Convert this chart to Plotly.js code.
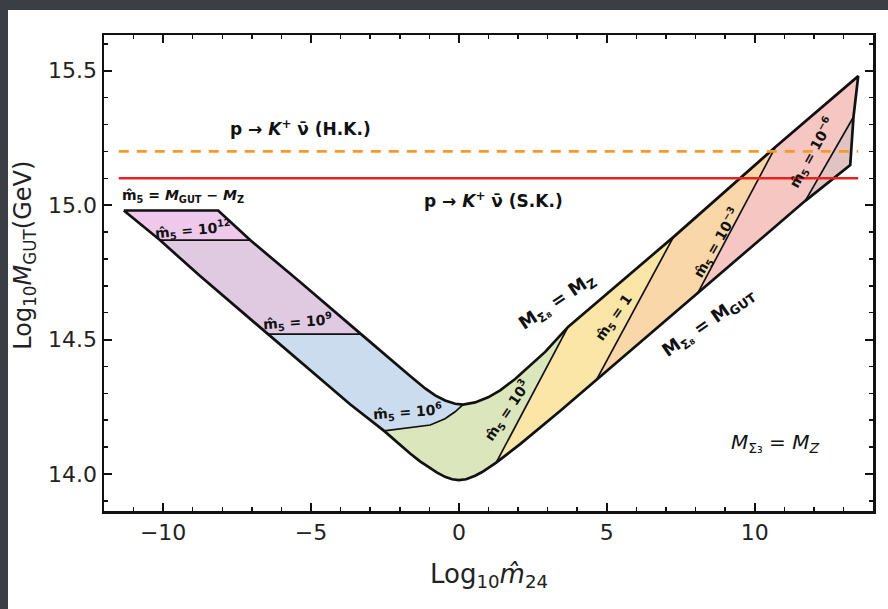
<!DOCTYPE html>
<html>
<head>
<meta charset="utf-8">
<script src="https://cdn.plot.ly/plotly-3.0.1.min.js"></script>
<style>
  html, body { margin: 0; padding: 0; width: 888px; height: 609px; overflow: hidden; background: #3b3f45; }
  #sheet { position: absolute; left: 8px; top: 10px; width: 880px; height: 599px; background: #ffffff; }
  #plot { width: 880px; height: 599px; }
</style>
</head>
<body>
<div id="sheet"><div id="plot"></div></div>
<script>
// Upper edge of the allowed band (Log10 m24, Log10 MGUT): top edge m5 = MGUT - MZ,
// the left branch, the M_Sigma8 = M_Z branch, then the right-hand cut-off down to its lower corner.
const upperX = [-11.33, -8.14, -7.06, -5.37, -3.31, -1.99, -1.65, -1.14, -0.805, -0.467, -0.129, 0.14, 0.548, 0.988, 1.394, 1.901, 2.409, 2.916, 3.69, 7.25, 10.70, 13.50, 13.34, 13.23];
const upperY = [14.98, 14.98, 14.87, 14.714, 14.52, 14.393, 14.364, 14.318, 14.292, 14.273, 14.261, 14.258, 14.266, 14.285, 14.311, 14.353, 14.404, 14.454, 14.547, 14.881, 15.216, 15.48, 15.328, 15.149];

// Lower edge of the band: left branch, then the M_Sigma8 = M_GUT branch.
const lowerX = [-11.33, -10.11, -8.76, -6.49, -5.37, -3.68, -2.53, -1.65, -1.313, -0.97, -0.737, -0.47, -0.23, 0.0, 0.244, 0.55, 0.785, 1.26, 1.732, 2.07, 3.42, 4.64, 6.47, 8.06, 9.85, 11.71, 13.23];
const lowerY = [14.98, 14.87, 14.737, 14.52, 14.418, 14.259, 14.16, 14.076, 14.047, 14.021, 14.005, 13.989, 13.98, 13.977, 13.98, 13.993, 14.007, 14.042, 14.081, 14.111, 14.234, 14.348, 14.52, 14.67, 14.84, 15.016, 15.149];

// Contours of constant m5 (each listed from the lower edge to the upper edge).
const m5e12X = [-10.11, -7.06];            const m5e12Y = [14.87, 14.87];
const m5e9X  = [-6.49, -3.31];             const m5e9Y  = [14.52, 14.52];
const m5e6X  = [-2.53, -1.65, -0.97, -0.47, -0.13, 0.14];
const m5e6Y  = [14.16, 14.171, 14.182, 14.205, 14.231, 14.258];
const m5e3X  = [1.26, 3.69];               const m5e3Y  = [14.042, 14.547];
const m5e0X  = [4.64, 7.25];               const m5e0Y  = [14.348, 14.881];
const m5em3X = [8.06, 10.70];              const m5em3Y = [14.67, 15.216];
const m5em6X = [11.71, 13.34];             const m5em6Y = [15.016, 15.328];

// Proton decay p -> K+ nubar bounds on Log10 MGUT
const limitHK = 15.2;   // Hyper-Kamiokande
const limitSK = 15.1;   // Super-Kamiokande
const limitSpan = [-11.5, 13.5];

// Axis ticks
const xTickVals = [-10, -5, 0, 5, 10];
const yTickVals = [14.0, 14.5, 15.0, 15.5];
const yTickText = ['14.0', '14.5', '15.0', '15.5'];

const regionColors = ['#eec9ec', '#dfcae2', '#cadcee', '#dbe6bc', '#fbe6a8', '#f9d7a9', '#f6c7c2', '#e2c3c3'];

// Region boundaries in order from the left end (corner A) to the right end (corner C)
const nL = lowerX.length;
const contours = [
  { x: [lowerX[0]], y: [lowerY[0]] },
  { x: m5e12X, y: m5e12Y },
  { x: m5e9X,  y: m5e9Y },
  { x: m5e6X,  y: m5e6Y },
  { x: m5e3X,  y: m5e3Y },
  { x: m5e0X,  y: m5e0Y },
  { x: m5em3X, y: m5em3Y },
  { x: m5em6X, y: m5em6Y },
  { x: [lowerX[nL - 1]], y: [lowerY[nL - 1]] }
];

function findPoint(xs, ys, x, y) {
  return xs.findIndex((v, i) => Math.abs(v - x) < 1e-9 && Math.abs(ys[i] - y) < 1e-9);
}

const traces = [];

// Filled bands between consecutive contours
for (let k = 0; k < contours.length - 1; k++) {
  const a = contours[k], b = contours[k + 1];
  const aN = a.x.length - 1, bN = b.x.length - 1;
  const iUa = findPoint(upperX, upperY, a.x[aN], a.y[aN]);
  const iUb = findPoint(upperX, upperY, b.x[bN], b.y[bN]);
  const iLa = findPoint(lowerX, lowerY, a.x[0], a.y[0]);
  const iLb = findPoint(lowerX, lowerY, b.x[0], b.y[0]);
  const px = [].concat(a.x, upperX.slice(iUa + 1, iUb), b.x.slice().reverse(), lowerX.slice(iLa + 1, iLb).reverse());
  const py = [].concat(a.y, upperY.slice(iUa + 1, iUb), b.y.slice().reverse(), lowerY.slice(iLa + 1, iLb).reverse());
  traces.push({
    type: 'scatter', mode: 'lines', x: px, y: py,
    fill: 'toself', fillcolor: regionColors[k],
    line: { width: 0, color: regionColors[k] }, hoverinfo: 'skip', showlegend: false
  });
}

// Interior contour lines
for (let k = 1; k < contours.length - 1; k++) {
  traces.push({
    type: 'scatter', mode: 'lines', x: contours[k].x, y: contours[k].y,
    line: { width: 1.7, color: '#111111' }, hoverinfo: 'skip', showlegend: false
  });
}

// Outline of the whole band
traces.push({
  type: 'scatter', mode: 'lines',
  x: upperX.concat(lowerX.slice(0, nL - 1).reverse()),
  y: upperY.concat(lowerY.slice(0, nL - 1).reverse()),
  line: { width: 2.7, color: '#111111' }, hoverinfo: 'skip', showlegend: false
});

// Experimental bounds
traces.push({
  type: 'scatter', mode: 'lines', x: limitSpan, y: [limitHK, limitHK],
  line: { width: 2.6, color: '#f39a2a', dash: '10px,8px' }, hoverinfo: 'skip', showlegend: false
});
traces.push({
  type: 'scatter', mode: 'lines', x: limitSpan, y: [limitSK, limitSK],
  line: { width: 2.6, color: '#e8221c' }, hoverinfo: 'skip', showlegend: false
});

const FONT = 'DejaVu Sans, Verdana, sans-serif';
const mh = 'm\u0302';
function label(text, x, y, angle, size) {
  return {
    text: text, x: x, y: y, xref: 'x', yref: 'y', showarrow: false,
    textangle: angle, font: { family: FONT, size: size, color: '#111111' },
    xanchor: 'center', yanchor: 'middle'
  };
}

const annotations = [
  label('<b>p → <i>K</i><sup>+</sup> ν\u0304 (H.K.)</b>', -5.37, 15.287, 0, 17),
  label('<b>p → <i>K</i><sup>+</sup> ν\u0304 (S.K.)</b>', 1.16, 15.02, 0, 17),
  label('<b>' + mh + '<sub>5</sub> = <i>M</i><sub>GUT</sub> − <i>M</i><sub>Z</sub></b>', -9.32, 15.034, 0, 14),
  label('<b>' + mh + '<sub>5</sub> = 10<sup>12</sup></b>', -8.99, 14.907, -5, 14),
  label('<b>' + mh + '<sub>5</sub> = 10<sup>9</sup></b>', -5.47, 14.565, -4, 14),
  label('<b>' + mh + '<sub>5</sub> = 10<sup>6</sup></b>', -1.75, 14.231, -4, 14),
  label('<b>' + mh + '<sub>5</sub> = 10<sup>3</sup></b>', 1.63, 14.234, -56, 14),
  label('<b>' + mh + '<sub>5</sub> = 1</b>', 5.25, 14.58, -55, 14),
  label('<b>' + mh + '<sub>5</sub> = 10<sup>−3</sup></b>', 8.71, 14.859, -60, 14),
  label('<b>' + mh + '<sub>5</sub> = 10<sup>−6</sup></b>', 11.95, 15.197, -61, 14),
  label('<b>M<sub>Σ₈</sub> = M<sub>Z</sub></b>', 3.32, 14.639, -34, 18),
  label('<b>M<sub>Σ₈</sub> = M<sub>GUT</sub></b>', 8.43, 14.562, -35, 18),
  label('<i>M</i><sub>Σ₃</sub> = <i>M<sub>Z</sub></i>', 10.70, 14.115, 0, 20),
  // axis titles
  {
    text: 'Log<sub>10</sub><i>M</i><sub>GUT</sub>(GeV)', xref: 'paper', yref: 'paper',
    x: -0.103, y: 0.538, textangle: -90, showarrow: false, borderpad: 0,
    xanchor: 'center', yanchor: 'middle', font: { family: FONT, size: 24, color: '#222222' }
  },
  {
    text: 'Log<sub>10</sub><i>' + mh + '</i><sub>24</sub>', xref: 'paper', yref: 'paper',
    x: 0.5, y: -0.1345, showarrow: false,
    xanchor: 'center', yanchor: 'middle', font: { family: FONT, size: 26, color: '#222222' }
  }
];

const axisCommon = {
  showgrid: false, zeroline: false, showline: true, linewidth: 2.5, linecolor: '#111111',
  mirror: 'allticks', ticks: 'inside', ticklen: 8, tickwidth: 2, tickcolor: '#111111',
  tickfont: { family: FONT, size: 22, color: '#222222' }
};

const layout = {
  width: 880, height: 599,
  margin: { l: 96, r: 15, t: 25, b: 98 },
  paper_bgcolor: '#ffffff', plot_bgcolor: '#ffffff',
  showlegend: false,
  xaxis: Object.assign({}, axisCommon, {
    range: [-12, 14], tickmode: 'array', tickvals: xTickVals,
    minor: { dtick: 1, ticks: 'inside', ticklen: 4, tickwidth: 1.5, tickcolor: '#111111', showgrid: false }
  }),
  yaxis: Object.assign({}, axisCommon, {
    range: [13.862, 15.633], tickmode: 'array', tickvals: yTickVals, ticktext: yTickText,
    minor: { dtick: 0.1, tick0: 14, ticks: 'inside', ticklen: 4, tickwidth: 1.5, tickcolor: '#111111', showgrid: false }
  }),
  annotations: annotations
};

Plotly.newPlot('plot', traces, layout, { staticPlot: true, displayModeBar: false });
</script>
</body>
</html>
